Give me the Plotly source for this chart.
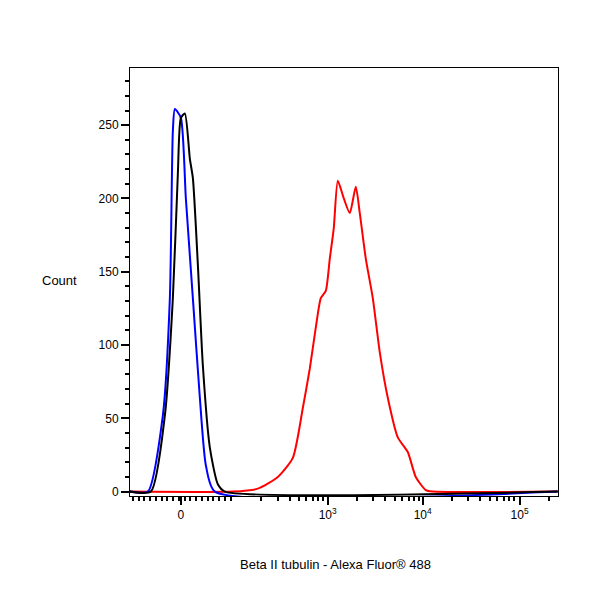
import plotly.graph_objects as go
import numpy as np

# x in display units (decade-based biexponential scale: 0 -> 0, 10^3 -> 1.53, 10^4 -> 2.52, 10^5 -> 3.53)
X_MIN, X_MAX = -0.53, 3.93
blue_px = [122, 140, 155, 162, 165, 167, 173, 178, 185, 192, 198, 207, 550]
blue_y = [0, 0, 52, 132, 246, 261, 255, 200, 132, 64, 18, 0, 0]
black_px = [122, 143, 157, 165, 170, 173, 177, 182, 185, 190, 195, 202, 210, 217, 550]
black_y = [0, 0, 52, 132, 217, 255, 258, 227, 214, 155, 86, 30, 5, 0, 0]
red_px = [122, 225, 250, 270, 285, 295, 302, 308, 313, 318, 322, 326, 330, 336, 342, 348, 352, 358, 365, 372, 380, 390, 400, 408, 418, 425, 550]
red_y = [0, 0, 2, 10, 23, 57, 84, 112, 132, 137, 159, 180, 212, 200, 190, 208, 190, 159, 132, 95, 64, 37, 27, 10, 1, 0, 0]

def to_u(px):
    return [(p - 173) / 96 for p in px]

tick_vals = [0, 1.53, 2.52, 3.53]
tick_text = ["0", "10<sup>3</sup>", "10<sup>4</sup>", "10<sup>5</sup>"]

minor = []
for base in [1.53, 2.52]:
    minor += [base + np.log10(k) for k in range(2, 10)]
minor += [3.53 + np.log10(k) for k in range(2, 5)]
minor += [0.53 + np.log10(k) for k in range(2, 10) if 0.53 + np.log10(k) < 1.53]
minor += list(np.arange(-0.5, 0.53, 0.06))

fig = go.Figure()
fig.add_trace(go.Scatter(x=to_u(red_px), y=red_y, mode="lines", line=dict(color="#ff0000", width=2, shape="spline", smoothing=0.6)))
fig.add_trace(go.Scatter(x=to_u(blue_px), y=blue_y, mode="lines", line=dict(color="#0000ff", width=2, shape="spline", smoothing=0.6)))
fig.add_trace(go.Scatter(x=to_u(black_px), y=black_y, mode="lines", line=dict(color="#000000", width=2, shape="spline", smoothing=0.6)))

fig.update_layout(
    width=600, height=600, showlegend=False,
    plot_bgcolor="white", paper_bgcolor="white",
    margin=dict(l=122, r=50, t=60, b=112, autoexpand=False),
    font=dict(family="Liberation Sans, Arial", size=12, color="black"),
    xaxis=dict(range=[X_MIN, X_MAX], tickvals=tick_vals, ticktext=tick_text,
               ticks="outside", ticklen=8, tickwidth=2, tickcolor="black", automargin=False,
               showline=True, linecolor="black", linewidth=1, mirror=True,
               showgrid=False, zeroline=False,
               minor=dict(tickvals=minor, ticks="outside", ticklen=4, tickwidth=1.5, tickcolor="black")),
    yaxis=dict(range=[-3, 289], tickvals=[0, 50, 100, 150, 200, 250], automargin=False,
               ticks="outside", ticklen=8, tickwidth=1.5, tickcolor="black",
               showline=True, linecolor="black", linewidth=1, mirror=True,
               showgrid=False, zeroline=False,
               minor=dict(dtick=10, ticks="outside", ticklen=4, tickcolor="black")),
    annotations=[
        dict(text="Count", x=(32 - 122) / 428, y=(488 - 272) / 428, xref="paper", yref="paper",
             showarrow=False, font=dict(size=13)),
        dict(text="Beta II tubulin - Alexa Fluor® 488", x=(327 - 122) / 428, y=(488 - 566) / 428,
             xref="paper", yref="paper", showarrow=False, font=dict(size=13)),
    ],
)
fig.write_html("out.html")
